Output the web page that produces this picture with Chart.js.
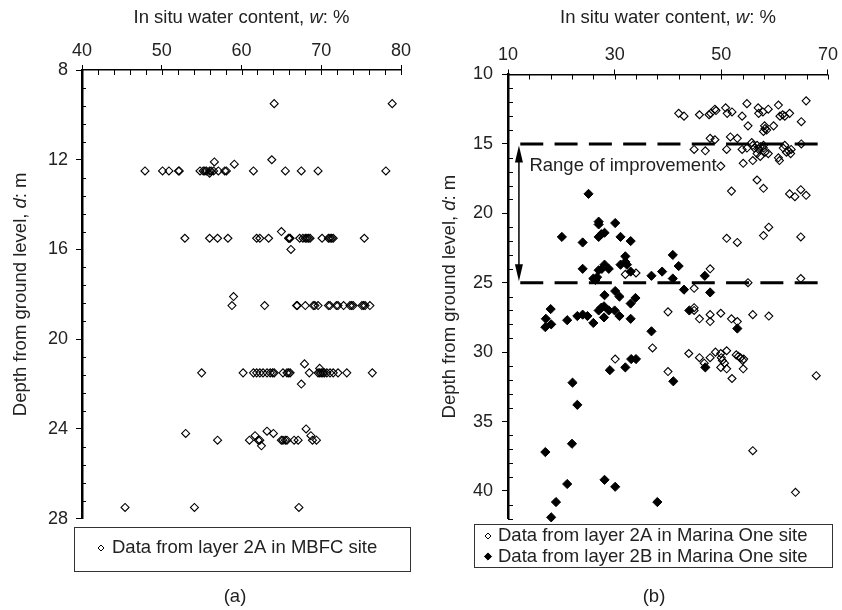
<!DOCTYPE html>
<html>
<head>
<meta charset="utf-8">
<script src="https://cdn.jsdelivr.net/npm/chart.js@4.4.1/dist/chart.umd.min.js"></script>
<style>
  html, body { margin: 0; padding: 0; background: #fff; }
  #wrap { position: relative; width: 842px; height: 610px; }
  #wrap canvas { position: absolute; left: 0; top: 0; }
</style>
</head>
<body>
<div id="wrap">
  <canvas id="mbfc" width="842" height="610"></canvas>
  <canvas id="marina" width="842" height="610"></canvas>
</div>
<script>
// ---------- (a) MBFC site, layer 2A ----------
const mbfcW = [
  64.1, 78.9,
  47.9, 50.1, 50.9, 52.1, 52.2, 54.8, 55.2, 55.4, 55.6, 56.0, 56.2, 56.5, 57.1, 57.9, 58.1, 61.5, 65.5, 67.5, 69.6, 78.1,
  56.6, 59.1, 63.8, 56.0,
  52.9, 56.0, 57.0, 58.3, 61.9, 62.3, 63.4, 65.9, 66.0, 66.1, 67.3, 67.7, 68.0, 68.2, 68.4, 68.6, 70.1, 70.9, 71.1, 71.3, 71.5, 75.4,
  65.0, 66.2, 59.0,
  58.8, 62.9, 66.9, 67.0, 68.0, 69.0, 69.2, 69.6, 70.9, 71.1, 71.9, 72.1, 72.8, 73.6, 73.8, 74.0, 75.1, 75.3, 75.5, 76.1,
  55.0, 60.2, 61.5, 61.9, 62.3, 62.7, 63.2, 63.6, 63.9, 64.1, 65.2, 65.7, 65.9, 66.1, 68.5, 69.6, 69.8, 70.0, 70.2, 70.4, 70.7, 71.1, 71.5, 72.1, 73.2, 76.4,
  67.9, 67.5, 69.8,
  53.0, 57.0, 61.0, 61.7, 62.1, 62.3, 62.5, 63.2, 64.0, 65.0, 65.2, 65.5, 65.7, 66.6, 67.1, 68.1, 68.7, 68.9, 69.4,
  45.4, 54.1, 67.2
];
const mbfcD = [
  9.5, 9.5,
  12.5, 12.5, 12.5, 12.5, 12.5, 12.5, 12.5, 12.5, 12.5, 12.5, 12.5, 12.5, 12.5, 12.5, 12.5, 12.5, 12.5, 12.5, 12.5, 12.5,
  12.1, 12.2, 12.0, 12.6,
  15.5, 15.5, 15.5, 15.5, 15.5, 15.5, 15.5, 15.5, 15.5, 15.5, 15.5, 15.5, 15.5, 15.5, 15.5, 15.5, 15.5, 15.5, 15.5, 15.5, 15.5, 15.5,
  15.2, 16.0, 18.1,
  18.5, 18.5, 18.5, 18.5, 18.5, 18.5, 18.5, 18.5, 18.5, 18.5, 18.5, 18.5, 18.5, 18.5, 18.5, 18.5, 18.5, 18.5, 18.5, 18.5,
  21.5, 21.5, 21.5, 21.5, 21.5, 21.5, 21.5, 21.5, 21.5, 21.5, 21.5, 21.5, 21.5, 21.5, 21.5, 21.5, 21.5, 21.5, 21.5, 21.5, 21.5, 21.5, 21.5, 21.5, 21.5, 21.5,
  21.1, 22.0, 21.3,
  24.2, 24.5, 24.5, 24.3, 24.5, 24.5, 24.75, 24.1, 24.2, 24.5, 24.5, 24.5, 24.5, 24.5, 24.5, 24.0, 24.3, 24.5, 24.5,
  27.5, 27.5, 27.5
];
const mbfcWTicks = [40, 50, 60, 70, 80];
const mbfcDTicks = [8, 12, 16, 20, 24, 28];

// ---------- (b) Marina One site, layers 2A and 2B ----------
const m2aW = [
  42.0, 43.0, 45.9, 47.7, 48.0, 48.8, 49.0, 50.8, 51.1, 52.0, 53.9, 54.8, 55.0, 56.9, 57.0, 57.8, 58.1, 58.2, 58.8, 59.8,
  57.9, 58.5, 60.7, 61.0, 61.5, 61.9, 62.8, 65.9, 65.0,
  47.9, 48.8, 51.7, 53.0, 44.9, 47.0, 51.0, 53.9, 54.8, 55.7, 55.9, 56.2, 56.7, 57.0, 57.3, 56.7, 57.9, 58.2, 58.8, 57.3,
  55.9, 54.1, 60.7, 60.9, 61.6, 61.9, 62.2, 62.6, 63.0, 63.1, 65.0, 57.9, 49.9,
  51.9, 56.7, 57.9, 62.8, 63.8, 64.9, 65.9, 51.0, 53.0, 57.9, 58.9, 64.9,
  55.0, 64.9, 47.9, 44.9, 32.0, 34.0,
  40.0, 44.9, 44.9, 45.9, 47.9, 47.9, 49.9, 51.9, 53.0, 55.9, 58.9,
  37.1, 40.0, 43.9, 45.9, 46.8, 47.9, 48.9, 49.9, 50.0, 50.2, 51.0, 50.6, 49.9, 51.0, 52.0, 52.8, 53.2, 53.6, 54.0, 54.2, 54.1, 67.8, 30.1,
  55.9, 63.9
];
const m2aD = [
  12.8, 13.0, 12.9, 12.9, 12.8, 12.5, 12.6, 12.4, 12.8, 12.7, 13.0, 12.1, 13.7, 12.4, 12.8, 12.7, 13.7, 13.9, 12.5, 13.7,
  14.1, 14.0, 12.2, 13.0, 12.9, 13.0, 12.8, 11.9, 13.4,
  14.6, 14.7, 14.5, 14.6, 15.4, 15.5, 15.4, 15.4, 15.3, 14.9, 15.1, 15.3, 15.1, 15.4, 15.2, 15.7, 15.3, 15.6, 15.7, 15.9,
  16.2, 16.4, 16.0, 16.2, 15.3, 15.1, 15.6, 15.5, 15.7, 15.4, 15.0, 15.1, 16.6,
  18.4, 17.6, 18.2, 18.6, 18.8, 18.3, 18.7, 21.8, 22.1, 21.6, 21.0, 21.7,
  25.0, 24.7, 24.0, 25.4, 24.4, 24.3,
  27.1, 26.8, 27.0, 27.6, 27.3, 27.8, 27.2, 27.6, 27.8, 27.3, 27.4,
  29.7, 31.4, 30.1, 30.4, 30.8, 30.4, 30.0, 30.1, 30.4, 30.6, 29.9, 30.8, 31.1, 31.2, 31.9, 30.2, 30.3, 30.4, 30.6, 30.5, 31.2, 31.7, 30.5,
  37.1, 40.1
];
const m2bW = [
  25.1, 20.1, 24.0, 27.0, 27.0, 30.1, 27.0, 27.5, 28.1, 31.1, 33.0,
  24.0, 27.0, 27.6, 28.1, 28.9, 32.0, 32.0, 32.3, 31.1, 33.0, 26.0, 26.7, 26.4, 36.9, 38.9, 40.9, 42.0, 40.9, 46.9,
  43.0, 47.9, 28.1, 30.1, 30.9, 33.9, 33.0,
  18.0, 17.1, 17.0, 18.1, 21.1, 23.0, 24.0, 24.9, 26.0, 27.0, 27.5, 28.0, 28.9, 28.0, 30.0, 30.9, 33.0, 44.0, 53.0, 36.9,
  33.1, 34.0, 32.0, 29.1, 47.0, 41.0, 22.1, 23.0,
  17.0, 22.0, 21.1, 19.0, 18.1, 28.1, 30.1, 38.0
];
const m2bD = [
  18.6, 21.7, 22.1, 20.6, 20.8, 20.7, 21.7, 21.5, 21.4, 21.7, 22.0,
  24.0, 24.1, 24.0, 23.7, 24.0, 23.1, 23.5, 23.7, 23.7, 24.2, 24.7, 24.6, 24.8, 24.5, 24.2, 23.0, 23.8, 24.7, 24.5,
  25.5, 25.7, 25.9, 25.6, 26.0, 26.1, 26.5,
  26.9, 27.6, 28.2, 28.0, 27.7, 27.4, 27.3, 27.4, 27.9, 27.0, 26.8, 26.7, 27.0, 27.5, 27.0, 27.4, 27.6, 27.0, 28.3, 28.5,
  30.5, 30.5, 31.1, 31.3, 31.1, 32.1, 32.2, 33.8,
  37.2, 36.6, 39.5, 40.8, 41.9, 39.2, 39.7, 40.8
];
const marinaWTicks = [10, 30, 50, 70];
const marinaDTicks = [10, 15, 20, 25, 30, 35, 40];
// depth bounds of the improved zone
const improvedTop = 15;
const improvedBottom = 25;

// ---------- shared drawing helpers ----------
const FONT = "'Liberation Sans', Arial, Helvetica, sans-serif";
const INK = '#222';
Chart.defaults.font.family = FONT;
Chart.defaults.color = INK;

const pts = (xs, ys) => xs.map((v, i) => ({ x: v, y: ys[i] }));

// Text made of normal and italic pieces, centred on (cx, cy)
function drawRich(ctx, parts, cx, cy, rot, size) {
  ctx.save();
  ctx.translate(cx, cy);
  ctx.rotate(rot);
  ctx.textBaseline = 'middle';
  ctx.textAlign = 'left';
  ctx.fillStyle = INK;
  const fonts = parts.map(p => (p.i ? 'italic ' : '') + size + 'px ' + FONT);
  const widths = parts.map((p, k) => { ctx.font = fonts[k]; return ctx.measureText(p.t).width; });
  let xx = -widths.reduce((a, b) => a + b, 0) / 2;
  parts.forEach((p, k) => { ctx.font = fonts[k]; ctx.fillText(p.t, xx, 0); xx += widths[k]; });
  ctx.restore();
}

function steps(min, max, step) {
  const out = [];
  const n = Math.round((max - min) / step);
  for (let i = 0; i <= n; i++) out.push(+(min + i * step).toFixed(6));
  return out;
}

// Inner tick marks, axis titles, legend box and caption
function decor(cfg) {
  return {
    id: 'decor',
    afterDraw(chart) {
      const { ctx, chartArea: a, scales: { x, y } } = chart;
      ctx.save();
      ctx.strokeStyle = '#000';
      ctx.lineWidth = 1;
      // ticks pointing into the plot
      ctx.beginPath();
      steps(x.min, x.max, cfg.xMinor).forEach(v => {
        const p = Math.round(x.getPixelForValue(v)) + 0.5;
        ctx.moveTo(p, a.top);
        ctx.lineTo(p, a.top + 5);
      });
      steps(y.min, y.max, cfg.yMinor).forEach(v => {
        if (cfg.yMajor.includes(v)) return;
        const p = Math.round(y.getPixelForValue(v)) + 0.5;
        ctx.moveTo(a.left, p);
        ctx.lineTo(a.left + cfg.yMinorLen, p);
      });
      ctx.stroke();

      drawRich(ctx, cfg.xTitle, (a.left + a.right) / 2, cfg.xTitleY, 0, 18.5);
      drawRich(ctx, cfg.yTitle, cfg.yTitleX, (a.top + a.bottom) / 2, -Math.PI / 2, 18.5);

      if (cfg.extra) cfg.extra(chart);

      // legend
      const L = cfg.legend;
      ctx.lineWidth = 1;
      ctx.strokeStyle = '#333';
      ctx.strokeRect(L.box[0] + 0.5, L.box[1] + 0.5, L.box[2] - L.box[0], L.box[3] - L.box[1]);
      L.rows.forEach(r => {
        const ds = chart.data.datasets[r.ds];
        ctx.fillStyle = ds.backgroundColor;
        ctx.strokeStyle = ds.borderColor;
        ctx.lineWidth = 1;
        Chart.helpers.drawPoint(ctx, { pointStyle: 'rectRot', radius: r.r, borderWidth: 1, rotation: 0 }, r.mx, r.y);
        ctx.fillStyle = INK;
        ctx.font = '18.5px ' + FONT;
        ctx.textAlign = 'left';
        ctx.textBaseline = 'middle';
        ctx.fillText(ds.label, r.tx, r.y);
      });

      ctx.fillStyle = INK;
      ctx.font = '18.5px ' + FONT;
      ctx.textAlign = 'center';
      ctx.textBaseline = 'middle';
      ctx.fillText(cfg.caption[0], cfg.caption[1], cfg.caption[2]);
      ctx.restore();
    }
  };
}

function panelOptions(c) {
  const yAxisW = 60, xAxisH = 60;
  return {
    responsive: false,
    animation: false,
    events: [],
    layout: {
      padding: {
        left: c.area.left - yAxisW,
        top: c.area.top - xAxisH,
        right: 842 - c.area.right,
        bottom: 610 - c.area.bottom
      }
    },
    plugins: { legend: { display: false }, tooltip: { enabled: false } },
    scales: {
      x: {
        type: 'linear', position: 'top', min: c.x.min, max: c.x.max,
        afterBuildTicks: s => { s.ticks = c.x.ticks.map(v => ({ value: v })); },
        afterFit: s => { s.height = xAxisH; },
        grid: { drawOnChartArea: false, drawTicks: true, tickLength: 5, color: '#000', lineWidth: 1 },
        border: { display: true, color: '#000', width: 1.5 },
        ticks: { font: { size: 18 }, color: INK, padding: c.x.pad, maxRotation: 0, autoSkip: false }
      },
      y: {
        type: 'linear', position: 'left', reverse: true, min: c.y.min, max: c.y.max,
        afterBuildTicks: s => { s.ticks = c.y.ticks.map(v => ({ value: v })); },
        afterFit: s => { s.width = yAxisW; },
        grid: { drawOnChartArea: false, drawTicks: true, tickLength: 6, color: '#000', lineWidth: 1 },
        border: { display: true, color: '#000', width: 2.5 },
        ticks: { font: { size: 18 }, color: INK, padding: c.y.pad, autoSkip: false }
      }
    }
  };
}

// ---------- panel (a) ----------
new Chart(document.getElementById('mbfc'), {
  type: 'scatter',
  data: {
    datasets: [{
      label: 'Data from layer 2A in MBFC site',
      data: pts(mbfcW, mbfcD),
      pointStyle: 'rectRot', pointRadius: 4, pointBorderWidth: 1.1,
      borderColor: '#000', backgroundColor: 'rgba(0,0,0,0)', clip: false
    }]
  },
  options: panelOptions({
    area: { left: 82, top: 70, right: 401, bottom: 518.7 },
    x: { min: 40, max: 80, ticks: mbfcWTicks, pad: 3 },
    y: { min: 8, max: 28, ticks: mbfcDTicks, pad: 8 }
  }),
  plugins: [decor({
    xMinor: 2, yMinor: 0.8, yMinorLen: 4, yMajor: mbfcDTicks,
    xTitle: [{ t: 'In situ water content, ' }, { t: 'w', i: true }, { t: ': %' }],
    xTitleY: 18,
    yTitle: [{ t: 'Depth from ground level, ' }, { t: 'd', i: true }, { t: ': m' }],
    yTitleX: 21,
    legend: { box: [74, 527, 410, 571], rows: [{ ds: 0, r: 3, mx: 101, tx: 112, y: 548 }] },
    caption: ['(a)', 235, 597]
  })]
});

// ---------- panel (b) ----------
new Chart(document.getElementById('marina'), {
  type: 'scatter',
  data: {
    datasets: [
      {
        label: 'Data from layer 2A in Marina One site',
        data: pts(m2aW, m2aD), order: 2,
        pointStyle: 'rectRot', pointRadius: 4, pointBorderWidth: 1.1,
        borderColor: '#000', backgroundColor: 'rgba(0,0,0,0)', clip: false
      },
      {
        label: 'Data from layer 2B in Marina One site',
        data: pts(m2bW, m2bD), order: 1,
        pointStyle: 'rectRot', pointRadius: 4.6, pointBorderWidth: 1,
        borderColor: '#000', backgroundColor: '#000', clip: false
      },
      {
        type: 'line', label: 'top of improved zone', order: 0,
        data: [{ x: 12.3, y: improvedTop }, { x: 70, y: improvedTop }],
        borderColor: '#000', borderWidth: 3, borderDash: [23, 11.3], pointRadius: 0
      },
      {
        type: 'line', label: 'bottom of improved zone', order: 0,
        data: [{ x: 12.3, y: improvedBottom }, { x: 70, y: improvedBottom }],
        borderColor: '#000', borderWidth: 3, borderDash: [23, 11.3], pointRadius: 0
      }
    ]
  },
  options: panelOptions({
    area: { left: 508, top: 74.5, right: 832, bottom: 518.7 },
    x: { min: 10, max: 70, ticks: marinaWTicks, pad: 4 },
    y: { min: 10, max: 42, ticks: marinaDTicks, pad: 9 }
  }),
  plugins: [decor({
    xMinor: 4, yMinor: 1, yMinorLen: 5, yMajor: marinaDTicks,
    xTitle: [{ t: 'In situ water content, ' }, { t: 'w', i: true }, { t: ': %' }],
    xTitleY: 18,
    yTitle: [{ t: 'Depth from ground level, ' }, { t: 'd', i: true }, { t: ': m' }],
    yTitleX: 450,
    legend: {
      box: [474, 524, 832, 567],
      rows: [
        { ds: 0, r: 3, mx: 488, tx: 498, y: 536 },
        { ds: 1, r: 3.6, mx: 488, tx: 498, y: 556.5 }
      ]
    },
    caption: ['(b)', 654, 597],
    extra(chart) {
      // double-headed arrow spanning the improved zone, with its label
      const { ctx, scales: { x, y } } = chart;
      const ax = x.getPixelForValue(12.05);
      const y1 = y.getPixelForValue(improvedTop) + 1.5;
      const y2 = y.getPixelForValue(improvedBottom) - 1.5;
      const head = 17, half = 4;
      ctx.save();
      ctx.strokeStyle = '#000';
      ctx.fillStyle = '#000';
      ctx.lineWidth = 1.5;
      ctx.beginPath();
      ctx.moveTo(ax, y1 + head - 2);
      ctx.lineTo(ax, y2 - head + 2);
      ctx.stroke();
      ctx.beginPath();
      ctx.moveTo(ax, y1); ctx.lineTo(ax - half, y1 + head); ctx.lineTo(ax + half, y1 + head); ctx.closePath();
      ctx.moveTo(ax, y2); ctx.lineTo(ax - half, y2 - head); ctx.lineTo(ax + half, y2 - head); ctx.closePath();
      ctx.fill();
      ctx.font = '18.5px ' + FONT;
      ctx.fillStyle = INK;
      ctx.textAlign = 'left';
      ctx.textBaseline = 'middle';
      ctx.fillText('Range of improvement', ax + 10.5, y.getPixelForValue(16.6));
      ctx.restore();
    }
  })]
});
</script>
</body>
</html>
